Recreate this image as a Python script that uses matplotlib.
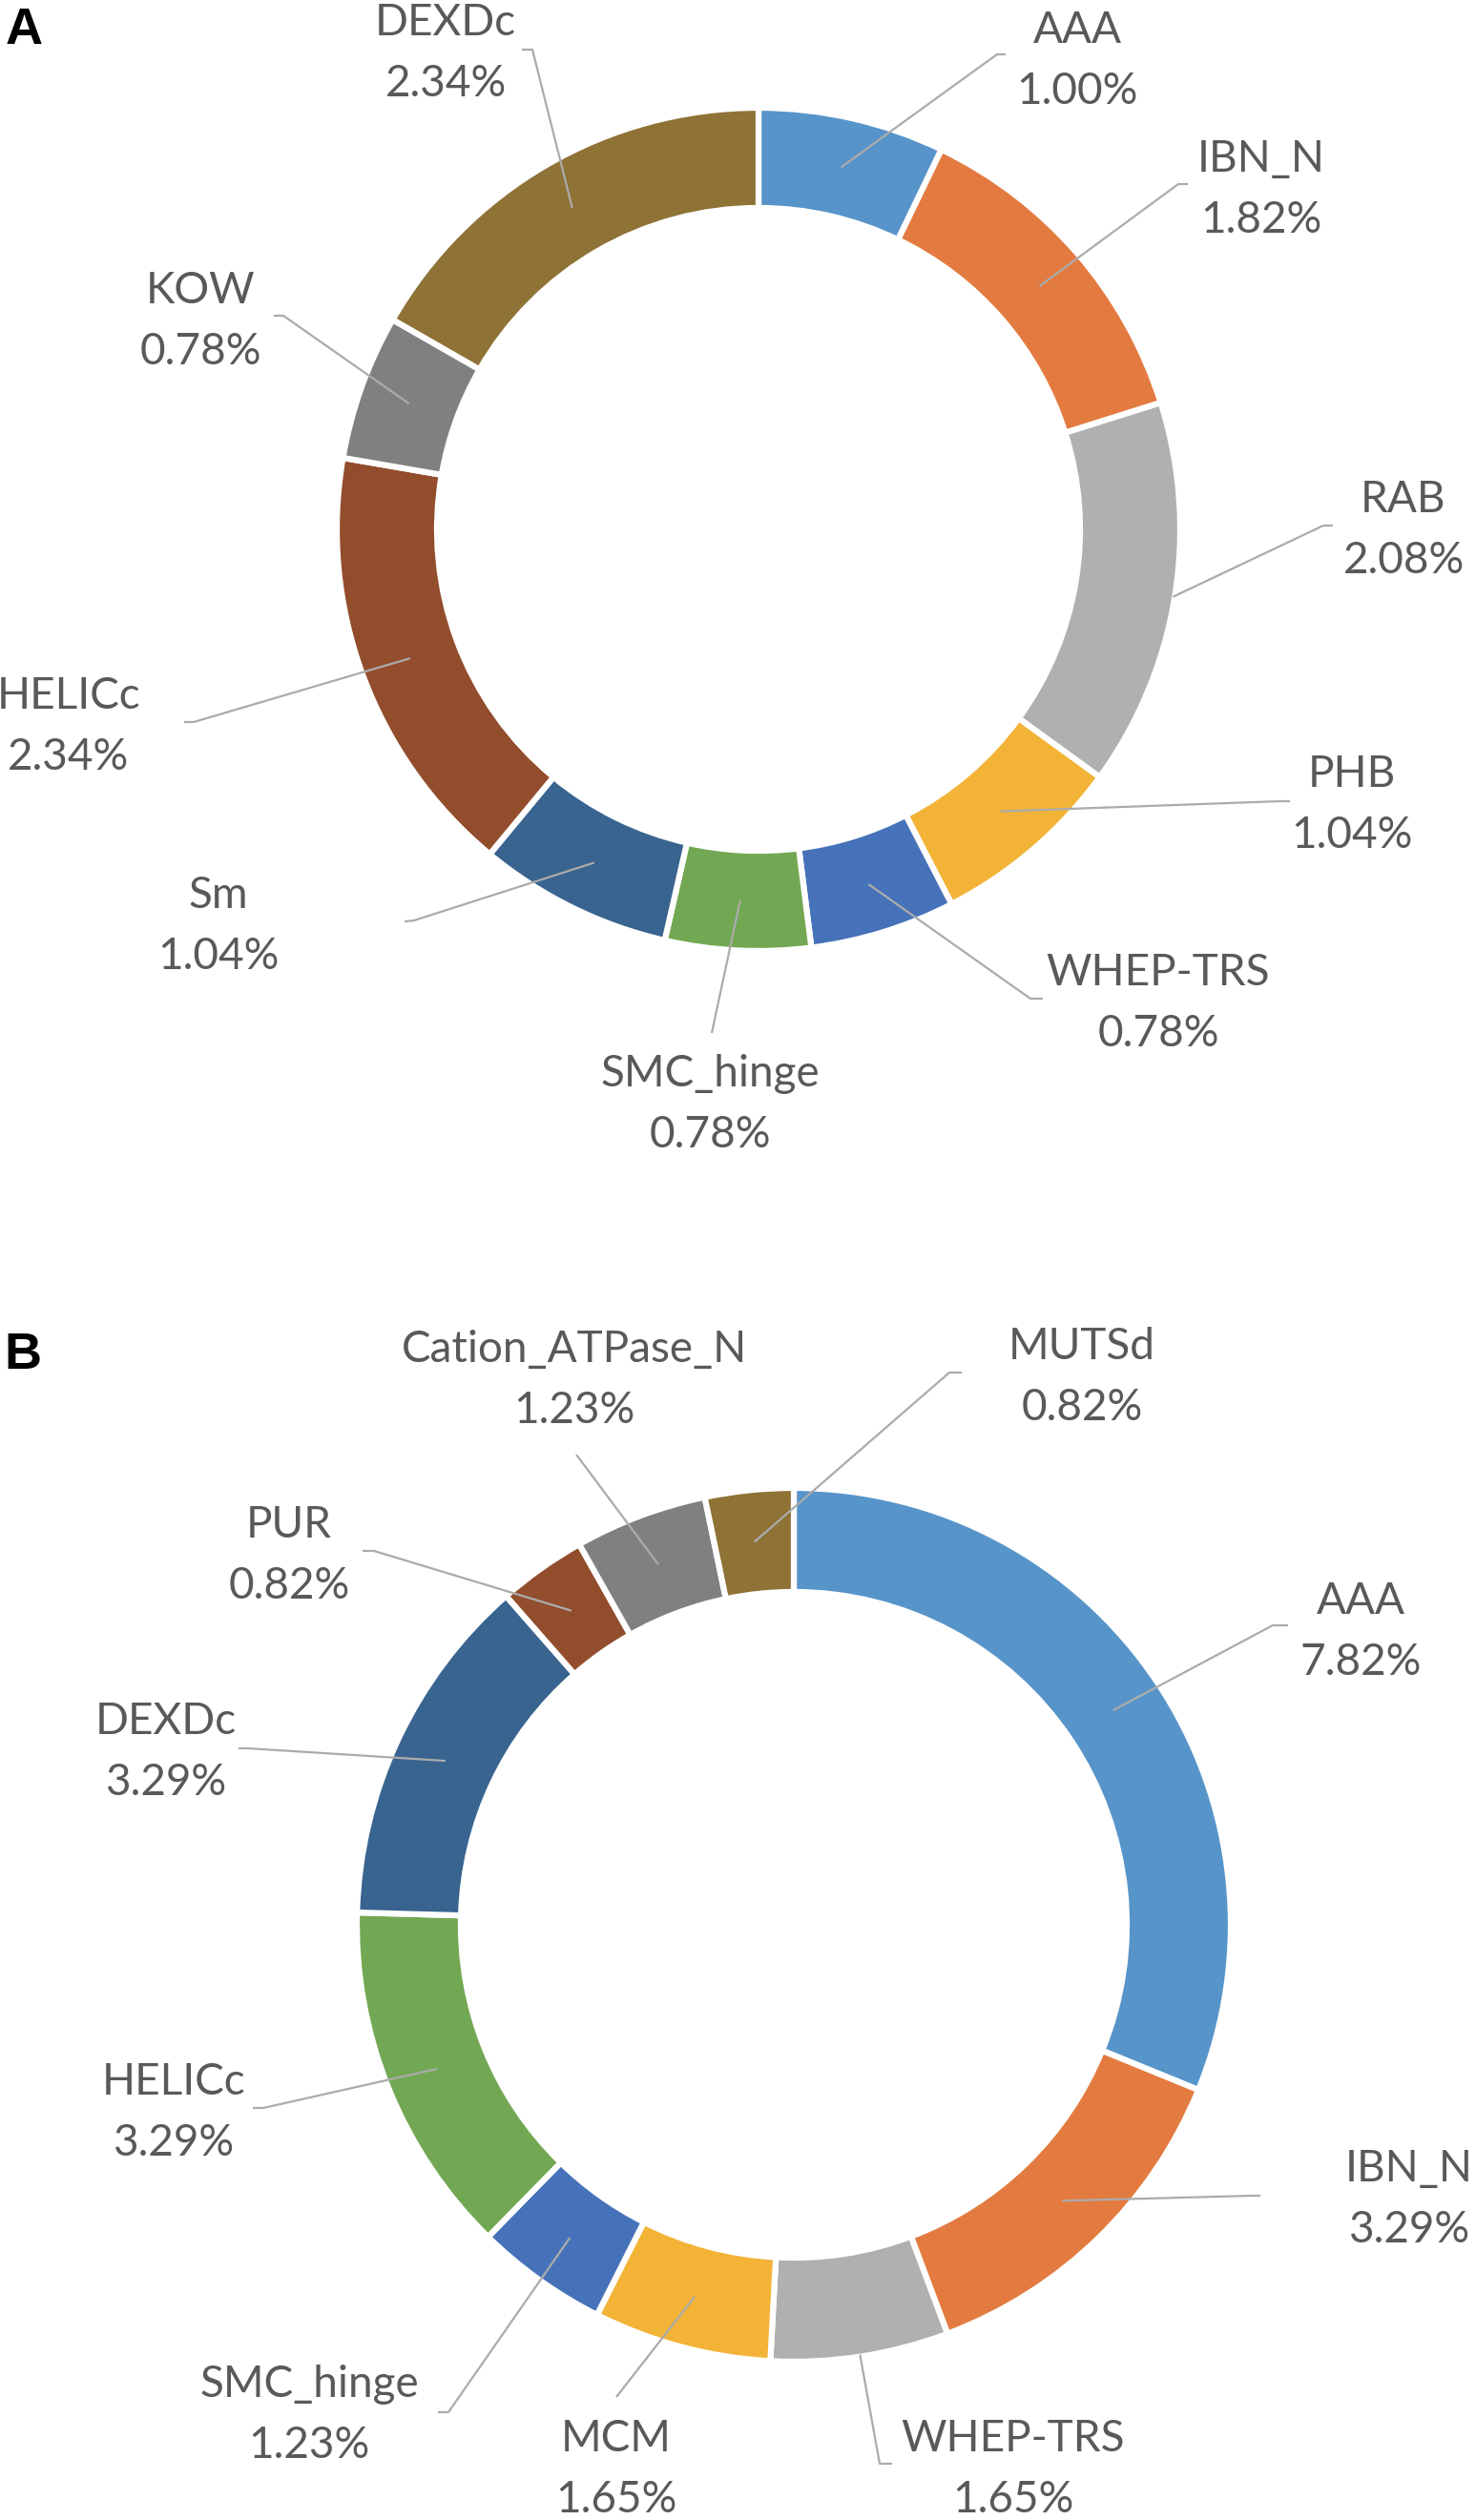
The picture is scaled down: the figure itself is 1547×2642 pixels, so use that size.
import matplotlib
matplotlib.use("Agg")
import matplotlib.pyplot as plt
import numpy as np

# ---------------- data ----------------
a_labels = ["AAA", "IBN_N", "RAB", "PHB", "WHEP-TRS", "SMC_hinge", "Sm", "HELICc", "KOW", "DEXDc"]
a_values = [1.00, 1.82, 2.08, 1.04, 0.78, 0.78, 1.04, 2.34, 0.78, 2.34]

b_labels = ["AAA", "IBN_N", "WHEP-TRS", "MCM", "SMC_hinge", "HELICc", "DEXDc", "PUR",
            "Cation_ATPase_N", "MUTSd"]
b_values = [7.82, 3.29, 1.65, 1.65, 1.23, 3.29, 3.29, 0.82, 1.23, 0.82]

# ---------------- style ----------------
a_colors = ["#5794C9", "#E37B40", "#AFB0B2", "#F3B337", "#4672B9", "#72A853",
            "#38648F", "#924D2D", "#7F8082", "#8E7236"]
b_colors = ["#5794C9", "#E37B40", "#AFB0B2", "#F3B337", "#4672B9", "#72A853",
            "#38648F", "#924D2D", "#7F8082", "#8E7236"]

W, H = 1547, 2642
TEXT_COLOR = "#595959"
LINE_COLOR = "#ABABAB"
FONT = ["Lato", "DejaVu Sans"]
FS = 33

# layout in image pixels (x right, y down)
a_geom = dict(cx=795, cy=555, r=442, w=105)
b_geom = dict(cx=832, cy=2018, r=458, w=109)

# per label: text centre (x, y), line end (x, y), anchor (x, y), start radius ("mid"/"out")
a_layout = {
    "AAA":       ((1129, 61),  (1045, 57),  (1054, 57),  "mid"),
    "IBN_N":     ((1322, 196), (1235, 193), (1245, 193), "mid"),
    "RAB":       ((1471, 553), (1387, 551), (1397, 551), "out"),
    "PHB":       ((1417, 841), (1342, 840), (1352, 840), "mid"),
    "WHEP-TRS":  ((1214, 1049), (1080, 1047), (1093, 1047), "mid"),
    "SMC_hinge": ((744, 1155), (746, 1083), (746, 1083), "mid"),
    "Sm":        ((229, 968),  (434, 965),  (424, 966),  "mid"),
    "HELICc":    ((72, 759),   (203, 757),  (193, 757),  "mid"),
    "KOW":       ((210, 334),  (297, 331),  (287, 331),  "mid"),
    "DEXDc":     ((467, 53),   (558, 52),   (547, 52),   "mid"),
}
b_layout = {
    "AAA":             ((1426, 1708), (1334, 1704), (1350, 1704), "mid"),
    "IBN_N":           ((1477, 2303), (1312, 2302), (1321, 2302), "mid"),
    "WHEP-TRS":        ((1062, 2586), (922, 2583),  (935, 2583),  "out"),
    "MCM":             ((646, 2586),  (646, 2513),  (646, 2513),  "mid"),
    "SMC_hinge":       ((324, 2529),  (470, 2529),  (459, 2529),  "mid"),
    "HELICc":          ((182, 2212),  (276, 2210),  (265, 2210),  "mid"),
    "DEXDc":           ((174, 1834),  (260, 1833),  (250, 1833),  "mid"),
    "PUR":             ((303, 1628),  (392, 1626),  (380, 1626),  "mid"),
    "Cation_ATPase_N": ((602, 1444),  (604, 1525),  (604, 1525),  "mid"),
    "MUTSd":           ((1134, 1441), (995, 1439),  (1008, 1439), "mid"),
}

fig = plt.figure(figsize=(W / 100, H / 100), dpi=100)
ax = fig.add_axes([0, 0, 1, 1])


def Y(y):
    return H - y


def donut(labels, values, colors, geom, layout):
    cx, cy, r, w = geom["cx"], Y(geom["cy"]), geom["r"], geom["w"]
    ax.pie(values, colors=colors, radius=r, center=(cx, cy),
           startangle=90, counterclock=False,
           wedgeprops=dict(width=w, edgecolor="white", linewidth=4.5))
    total = float(sum(values))
    cum = 0.0
    for lab, v in zip(labels, values):
        mid = np.deg2rad(90 - 360 * (cum + v / 2) / total)
        cum += v
        (tx, ty), (ex, ey), (nx, ny), rmode = layout[lab]
        rr = r - w / 2 if rmode == "mid" else r - 2
        sx, sy = cx + rr * np.cos(mid), cy + rr * np.sin(mid)
        ax.plot([sx, ex, nx], [sy, Y(ey), Y(ny)], color=LINE_COLOR, lw=1.6,
                solid_capstyle="butt", zorder=3)
        ax.text(tx, Y(ty - 16), lab, ha="center", va="baseline", fontsize=FS,
                color=TEXT_COLOR, family=FONT, zorder=4)
        ax.text(tx, Y(ty + 48), f"{v:.2f}%", ha="center", va="baseline", fontsize=FS,
                color=TEXT_COLOR, family=FONT, zorder=4)


donut(a_labels, a_values, a_colors, a_geom, a_layout)
donut(b_labels, b_values, b_colors, b_geom, b_layout)

ax.text(6, Y(46), "A", ha="left", va="baseline", fontsize=39, fontweight="bold",
        color="black", family=["Liberation Sans", "DejaVu Sans"])
ax.text(4, Y(1435), "B", ha="left", va="baseline", fontsize=39, fontweight="bold",
        color="black", family=["Liberation Sans", "DejaVu Sans"])

ax.set_aspect("auto")
ax.set_xlim(0, W)
ax.set_ylim(0, H)
ax.axis("off")

fig.savefig("out.png", dpi=100, facecolor="white")
